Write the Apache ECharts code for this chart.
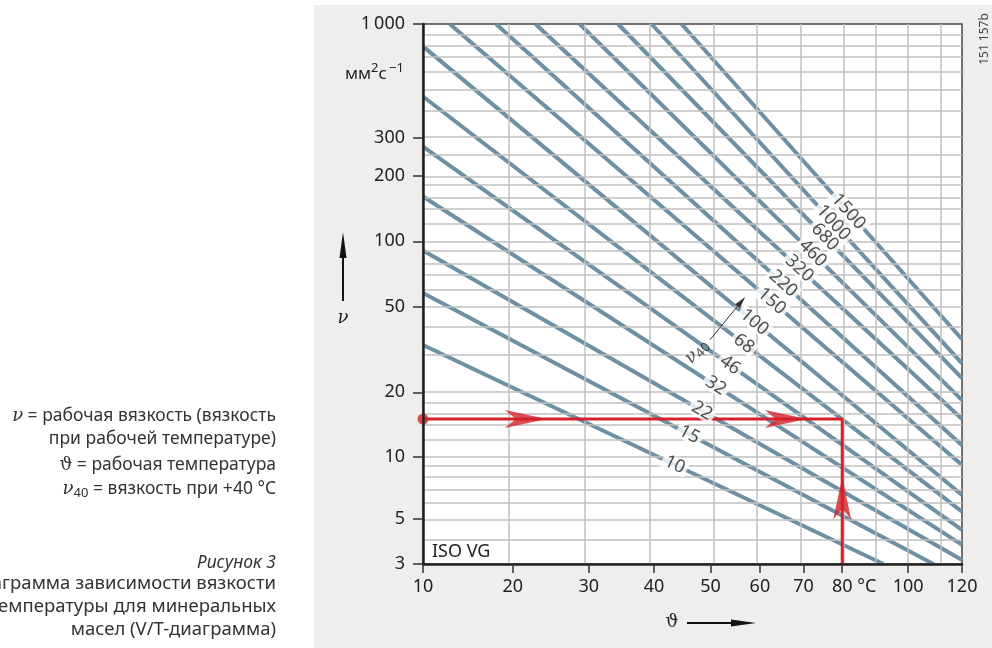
<!DOCTYPE html>
<html>
<head>
<meta charset="utf-8">
<script src="https://cdn.jsdelivr.net/npm/echarts@6/dist/echarts.min.js"></script>
<style>
  html, body { margin: 0; padding: 0; background: #fff; }
  #chart { width: 992px; height: 648px; }
</style>
</head>
<body>
<div id="chart"></div>
<script>
// ISO viscosity grades, mm²/s at 40 °C
const isoGrades = [10, 15, 22, 32, 46, 68, 100, 150, 220, 320, 460, 680, 1000, 1500];
// where each grade line enters the frame: [temperature °C, viscosity mm²/s]
const lineStart = [[10, 33.2], [10, 57.7], [10, 90.7], [10, 161], [10, 273], [10, 464], [10, 789],
                   [12.8, 1000], [18.0, 1000], [22.8, 1000], [28.7, 1000], [34.3, 1000], [39.6, 1000], [44.7, 1000]];
// where each grade line leaves the frame
const lineEnd = [[92.0, 3], [108.9, 3], [120, 3.14], [120, 3.74], [120, 4.43], [120, 5.44], [120, 6.55],
                 [120, 9.11], [120, 11.3], [120, 15.0], [120, 18.4], [120, 23.3], [120, 27.3], [120, 35.3]];
// temperature at which each grade number sits on its line
const labelTemps = [43.5, 46.1, 48.4, 51.0, 53.8, 56.6, 58.8, 62.6, 65.2, 69.0, 72.3, 75.4, 77.6, 81.7];

const tempTicks = [10, 20, 30, 40, 50, 60, 70, 80, 100, 120];
const tempGrid = [20, 30, 40, 50, 60, 70, 80, 90, 100, 110];
const viscTicks = [3, 5, 10, 20, 50, 100, 200, 300, 1000];
const viscGrid = [4, 5, 6, 7, 8, 9, 10, 12, 14, 16, 18, 20, 30, 40, 50, 60, 70, 80, 90, 100,
                  120, 140, 160, 180, 200, 250, 300, 400, 500, 600, 700, 800, 900];

// worked example: 80 °C operating temperature -> 15 mm²/s
const examplePath = [[10, 15], [80, 15], [80, 3]];
const exampleArrows = [[21.6, 15, 0], [65.8, 15, 0], [80, 6.3, 90]];   // T, ν, direction (deg)
// ν40 pointer
const nu40Pointer = [[49.9, 35.1], [56.1, 52.7]];
const nu40Text = [47.4, 30.9];

// chart scales: temperature on a (T-10)/(T+100) scale, viscosity on log(ν+0.3)
const tx = T => (T - 10) / (T + 100);
const ty = v => Math.log10(v + 0.3);
const txInv = t => (10 + 100 * t) / (1 - t);
const tyInv = y => Math.pow(10, y) - 0.3;

const FONT = 'Noto Sans';
const SERIF = 'DejaVu Serif';
const BLUE = '#6d90a5';
const RED = '#d5212b';
const INK = '#222';

const chart = echarts.init(document.getElementById('chart'), null, { width: 992, height: 648 });

function pt(p) { return [tx(p[0]), ty(p[1])]; }
function pointOnLine(i, T) {
  const a = pt(lineStart[i]), b = pt(lineEnd[i]);
  const f = (tx(T) - a[0]) / (b[0] - a[0]);
  return [tx(T), a[1] + f * (b[1] - a[1])];
}

const gridSeries = {
  type: 'line', data: [], z: 1, silent: true,
  markLine: {
    silent: true, symbol: ['none', 'none'], label: { show: false }, emphasis: { disabled: true },
    lineStyle: { color: '#c0c0c0', width: 1.5, type: 'solid' },
    data: tempGrid.map(T => ({ xAxis: tx(T) })).concat(viscGrid.map(v => ({ yAxis: ty(v) })))
  }
};

const gradeSeries = isoGrades.map((g, i) => ({
  type: 'line', name: 'ISO VG ' + g, z: 3, silent: true, symbol: 'none',
  data: [pt(lineStart[i]), pt(lineEnd[i])],
  lineStyle: { color: BLUE, width: 4, cap: 'butt' }
}));

function labelSeries(rot) {
  return {
    type: 'scatter', z: 6, silent: true, symbol: 'circle', symbolSize: 1, clip: false,
    itemStyle: { color: 'rgba(0,0,0,0)' },
    data: isoGrades.map((g, i) => ({ value: pointOnLine(i, labelTemps[i]), name: String(g), label: { rotate: rot[i] } })),
    label: {
      show: true, position: 'inside', formatter: p => p.name,
      fontFamily: FONT, fontSize: 18, color: INK, backgroundColor: '#fff', padding: [-1, 3]
    }
  };
}

const pathSeries = {
  type: 'line', z: 5, silent: true, symbol: 'none',
  data: examplePath.map(pt), lineStyle: { color: RED, width: 3 }
};
const dotSeries = {
  type: 'scatter', z: 7, silent: true, clip: false, symbolSize: 11,
  data: [pt(examplePath[0])], itemStyle: { color: RED }
};
const arrowSeries = {
  type: 'scatter', z: 7, silent: true, clip: false,
  symbol: 'path://M0,0L42,9L0,18L11,9Z', symbolSize: [42, 18],
  itemStyle: { color: RED },
  data: exampleArrows.map(a => ({ value: pt(a), symbolRotate: a[2] }))
};
const pointerSeries = {
  type: 'scatter', z: 7, silent: true, clip: false, symbolSize: 1,
  itemStyle: { color: 'rgba(0,0,0,0)' },
  data: [{ value: pt(nu40Text), name: 'nu40' }],
  label: {
    show: true, position: 'inside', rotate: 47,
    formatter: '{i|ν}{s|40}',
    rich: {
      i: { fontFamily: SERIF, fontStyle: 'italic', fontSize: 18, color: INK },
      s: { fontFamily: FONT, fontSize: 13, color: INK, padding: [8, 0, 0, 0] }
    }
  },
  markLine: {
    silent: true, symbol: ['none', 'triangle'], symbolSize: [6, 12], label: { show: false },
    emphasis: { disabled: true },
    lineStyle: { color: '#333', width: 1, type: 'solid' },
    data: [[{ coord: pt(nu40Pointer[0]) }, { coord: pt(nu40Pointer[1]) }]]
  }
};

const tickStyle = { fontFamily: FONT, fontSize: 18, color: INK };
const captionStyle = { fontFamily: FONT, fontSize: 18.5, fill: '#333', align: 'right', verticalAlign: 'middle' };

function baseOption(rot) {
  return {
    animation: false,
    grid: {
      left: 423, top: 24, width: 539, height: 540, show: true,
      backgroundColor: '#fff', borderColor: '#444', borderWidth: 1.5,
      containLabel: false, outerBoundsMode: 'none'
    },
    xAxis: {
      type: 'value', min: tx(10), max: tx(120), z: 10,
      axisLine: { show: true, onZero: false, lineStyle: { color: INK, width: 2.5 } },
      axisTick: { show: true, customValues: tempTicks.map(tx), length: 9, lineStyle: { color: '#333', width: 1.5 } },
      axisLabel: Object.assign({
        show: true, customValues: tempTicks.map(tx), margin: 14,
        showMinLabel: true, showMaxLabel: true,
        formatter: v => {
          const T = Math.round(txInv(v));
          return T === 80 ? '{h|\u00a0°C}{n|80\u00a0°C}' : String(T);
        },
        rich: {
          h: Object.assign({}, tickStyle, { color: 'rgba(0,0,0,0)' }),
          n: Object.assign({}, tickStyle)
        }
      }, tickStyle),
      splitLine: { show: false }
    },
    yAxis: {
      type: 'value', min: ty(3), max: ty(1000), z: 10,
      axisLine: { show: true, onZero: false, lineStyle: { color: INK, width: 2.5 } },
      axisTick: { show: true, customValues: viscTicks.map(ty), length: 10, lineStyle: { color: '#333', width: 1.5 } },
      axisLabel: Object.assign({
        show: true, customValues: viscTicks.map(ty), margin: 18,
        showMinLabel: true, showMaxLabel: true,
        formatter: v => {
          const n = Math.round(tyInv(v));
          return n === 1000 ? '1\u2009000' : String(n);
        }
      }, tickStyle),
      splitLine: { show: false }
    },
    graphic: [
      { type: 'rect', z: -10, shape: { x: 314, y: 5, width: 678, height: 643 }, style: { fill: '#efeeec' } },
      // unit of the viscosity axis
      { type: 'text', x: 345, y: 74, style: {
          text: '{b|мм}{s|2}{b|с}{s|\u2009−1}', align: 'left', verticalAlign: 'middle',
          rich: {
            b: { fontFamily: FONT, fontSize: 17, fill: INK },
            s: { fontFamily: FONT, fontSize: 13, fill: INK, padding: [0, 0, 12, 0] }
          } } },
      // ν axis arrow
      { type: 'line', shape: { x1: 343, y1: 301, x2: 343, y2: 252 }, style: { stroke: '#111', lineWidth: 2 } },
      { type: 'polygon', shape: { points: [[343, 232], [339.5, 258], [346.5, 258]] }, style: { fill: '#111' } },
      { type: 'text', x: 343, y: 318, style: { text: 'ν', fontFamily: SERIF, fontStyle: 'italic', fontSize: 18, fill: INK, align: 'center', verticalAlign: 'middle' } },
      // ϑ axis arrow
      { type: 'text', x: 672, y: 622, style: { text: 'ϑ', fontFamily: SERIF, fontSize: 18, fill: INK, align: 'center', verticalAlign: 'middle' } },
      { type: 'line', shape: { x1: 687, y1: 623, x2: 736, y2: 623 }, style: { stroke: '#111', lineWidth: 2 } },
      { type: 'polygon', shape: { points: [[756, 623], [731, 619.5], [731, 626.5]] }, style: { fill: '#111' } },
      // grade series title
      { type: 'text', x: 432, y: 552, z: 20, style: { text: 'ISO VG', fontFamily: FONT, fontSize: 18, fill: INK, align: 'left', verticalAlign: 'middle' } },
      // drawing number
      { type: 'text', x: 985, y: 39, rotation: Math.PI / 2, style: { text: '151 157b', fontFamily: FONT, fontSize: 12, fill: '#444', align: 'center', verticalAlign: 'middle' } },
      // legend of symbols
      { type: 'text', x: 276, y: 416, style: {
          text: '{i|ν}{t| = рабочая вязкость (вязкость}', align: 'right', verticalAlign: 'middle',
          rich: {
            i: { fontFamily: SERIF, fontStyle: 'italic', fontSize: 18, fill: '#333' },
            t: { fontFamily: FONT, fontSize: 17.5, fill: '#333' }
          } } },
      { type: 'text', x: 276, y: 439, style: { text: 'при рабочей температуре)', fontFamily: FONT, fontSize: 17.5, fill: '#333', align: 'right', verticalAlign: 'middle' } },
      { type: 'text', x: 276, y: 465, style: {
          text: '{g|ϑ}{t| = рабочая температура}', align: 'right', verticalAlign: 'middle',
          rich: {
            g: { fontFamily: SERIF, fontSize: 18, fill: '#333' },
            t: { fontFamily: FONT, fontSize: 17.5, fill: '#333' }
          } } },
      { type: 'text', x: 276, y: 489, style: {
          text: '{i|ν}{s|40}{t| = вязкость при +40 °C}', align: 'right', verticalAlign: 'middle',
          rich: {
            i: { fontFamily: SERIF, fontStyle: 'italic', fontSize: 18, fill: '#333' },
            s: { fontFamily: FONT, fontSize: 13, fill: '#333', padding: [8, 0, 0, 0] },
            t: { fontFamily: FONT, fontSize: 17.5, fill: '#333' }
          } } },
      // figure caption
      { type: 'text', x: 276, y: 563, style: Object.assign({}, captionStyle, { text: 'Рисунок 3', fontStyle: 'italic', fontSize: 17.5 }) },
      { type: 'text', x: 276, y: 584, style: Object.assign({}, captionStyle, { text: 'Диаграмма зависимости вязкости' }) },
      { type: 'text', x: 276, y: 607, style: Object.assign({}, captionStyle, { text: 'от температуры для минеральных' }) },
      { type: 'text', x: 276, y: 630, style: Object.assign({}, captionStyle, { text: 'масел (V/T-диаграмма)' }) }
    ],
    series: [gridSeries].concat(gradeSeries, [pathSeries, labelSeries(rot), dotSeries, arrowSeries, pointerSeries])
  };
}

chart.setOption(baseOption(isoGrades.map(() => 0)));

// turn each grade number to follow the slope of its line on screen
const rotations = isoGrades.map((g, i) => {
  const a = chart.convertToPixel({ gridIndex: 0 }, pt(lineStart[i]));
  const b = chart.convertToPixel({ gridIndex: 0 }, pt(lineEnd[i]));
  return -Math.atan2(b[1] - a[1], b[0] - a[0]) * 180 / Math.PI;
});
chart.setOption(baseOption(rotations), { notMerge: true });
</script>
</body>
</html>
